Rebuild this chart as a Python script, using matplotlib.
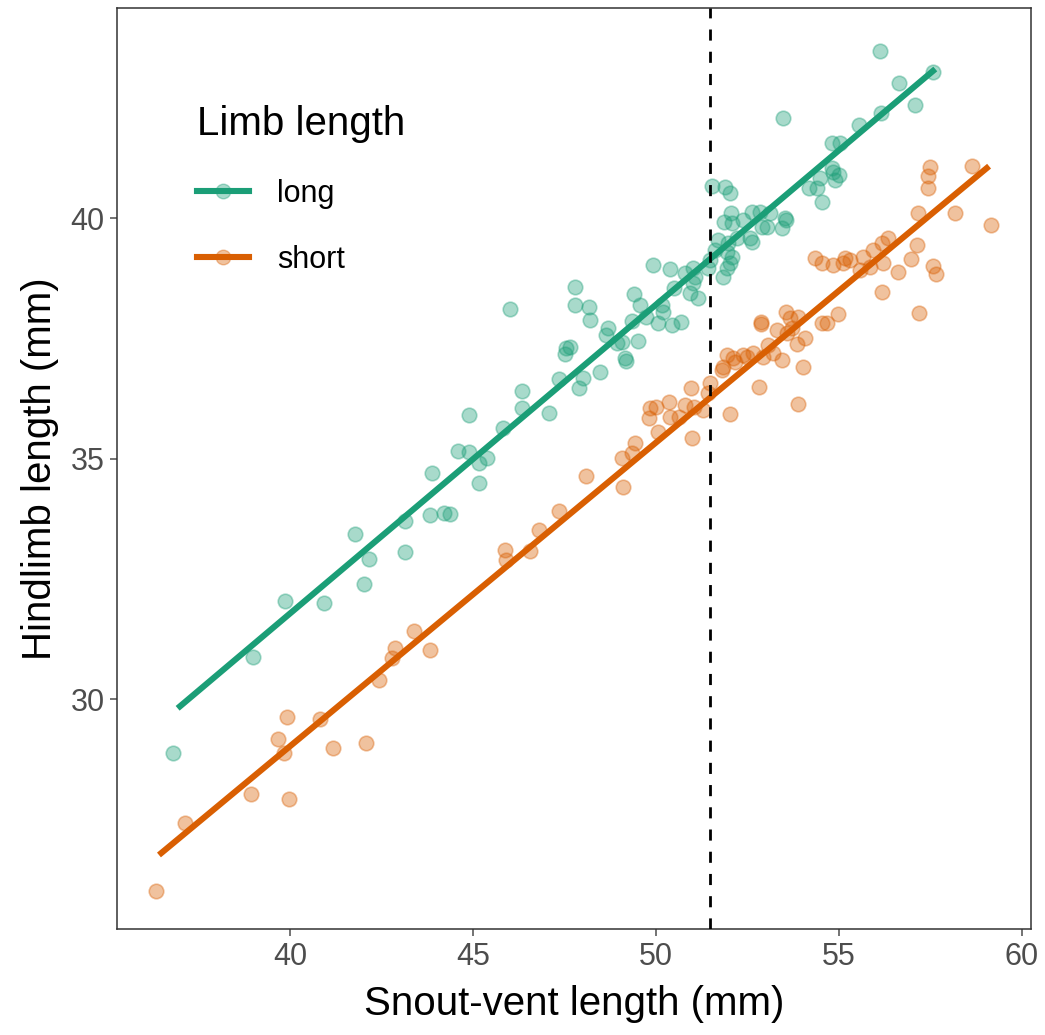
import matplotlib.pyplot as plt
from matplotlib.lines import Line2D

# snout-vent length / hindlimb length, long-limbed group
long_svl = [36.80, 38.99, 39.86, 40.93, 41.78, 42.16, 42.02, 43.14, 43.14, 43.83,
            44.21, 44.37, 45.16, 43.88, 44.59, 44.89, 45.16, 45.38, 44.89, 45.82,
            46.34, 46.34, 47.08, 47.35, 47.51, 47.54, 46.01, 47.79, 47.79, 48.17,
            48.20, 47.65, 47.90, 48.01, 48.47, 48.63, 48.69, 48.93, 49.07, 49.15,
            49.18, 49.34, 49.40, 49.51, 49.56, 49.73, 49.92, 50.05, 50.16, 50.19,
            50.38, 50.44, 50.49, 50.68, 50.79, 50.93, 51.01, 51.01, 51.07, 51.15,
            51.42, 51.48, 51.61, 51.69, 51.83, 51.94, 51.94, 51.97, 52.02, 52.08,
            52.21, 52.57, 52.62, 51.53, 51.89, 52.02, 52.05, 51.86, 52.08, 52.38,
            52.62, 52.84, 53.11, 53.03, 52.90, 53.52, 53.55, 53.44, 53.47, 54.18,
            54.40, 54.48, 54.54, 54.81, 54.84, 55.00, 54.89, 54.81, 55.03, 55.55,
            56.15, 56.64, 56.12, 57.08, 57.57]
long_hl = [28.88, 30.87, 32.04, 32.00, 33.43, 32.91, 32.39, 33.06, 33.70, 33.83,
           33.87, 33.85, 34.49, 34.70, 35.16, 35.14, 34.91, 35.01, 35.90, 35.63,
           36.40, 36.05, 35.95, 36.65, 37.17, 37.30, 38.11, 38.57, 38.19, 38.15,
           37.88, 37.32, 36.47, 36.67, 36.80, 37.57, 37.71, 37.40, 37.42, 37.09,
           37.03, 37.86, 38.42, 37.44, 38.19, 37.94, 39.02, 37.82, 38.19, 38.05,
           38.94, 37.78, 38.54, 37.84, 38.86, 38.44, 38.96, 38.65, 38.77, 38.34,
           38.96, 39.13, 39.33, 39.54, 38.77, 39.29, 38.96, 39.48, 39.06, 39.19,
           39.58, 39.58, 39.50, 40.67, 40.64, 40.52, 40.10, 39.92, 39.90, 39.96,
           40.12, 40.12, 40.10, 39.81, 39.81, 40.00, 39.96, 39.79, 42.08, 40.62,
           40.62, 40.83, 40.33, 41.04, 40.96, 40.89, 40.79, 41.56, 41.56, 41.93,
           42.18, 42.81, 43.47, 42.35, 43.04]

# short-limbed group
short_svl = [36.34, 37.13, 38.93, 39.97, 39.67, 39.84, 39.92, 40.82, 41.17, 42.08,
             42.43, 42.79, 42.87, 43.39, 43.83, 45.87, 45.90, 46.56, 46.80, 47.35,
             48.09, 49.10, 49.07, 49.34, 49.43, 50.05, 49.81, 49.84, 50.00, 50.36,
             50.38, 50.63, 50.79, 50.98, 50.96, 51.04, 51.28, 51.48, 51.42, 52.02,
             51.83, 51.80, 51.94, 52.10, 52.16, 52.38, 52.49, 52.65, 52.92, 53.06,
             53.20, 53.44, 52.81, 53.88, 54.02, 53.85, 54.07, 53.58, 53.72, 53.55,
             53.66, 53.88, 53.31, 52.87, 52.87, 54.54, 54.67, 54.97, 57.19, 57.49,
             57.43, 57.43, 58.63, 57.16, 58.17, 59.15, 56.34, 56.17, 55.93, 55.66,
             55.30, 55.16, 55.11, 54.84, 54.54, 54.34, 56.20, 55.85, 55.57, 57.13,
             56.97, 56.61, 57.57, 57.65, 56.17]
short_hl = [26.01, 27.42, 28.02, 27.92, 29.17, 28.88, 29.63, 29.58, 28.98, 29.09,
            30.40, 30.85, 31.06, 31.41, 31.02, 33.10, 32.89, 33.08, 33.51, 33.91,
            34.64, 34.41, 35.01, 35.11, 35.32, 35.55, 35.84, 36.05, 36.07, 36.17,
            35.86, 35.86, 36.11, 35.43, 36.47, 36.07, 36.01, 36.57, 36.36, 35.93,
            36.90, 36.84, 37.15, 37.09, 37.01, 37.15, 37.11, 37.19, 37.11, 37.36,
            37.19, 37.05, 36.49, 36.13, 36.90, 37.38, 37.51, 37.61, 37.71, 38.05,
            37.92, 37.94, 37.67, 37.84, 37.80, 37.82, 37.82, 38.00, 38.02, 41.06,
            40.87, 40.62, 41.08, 40.10, 40.10, 39.85, 39.58, 39.48, 39.33, 39.19,
            39.13, 39.17, 39.06, 39.02, 39.06, 39.17, 39.06, 38.98, 38.92, 39.44,
            39.15, 38.88, 39.00, 38.84, 38.46]

# fitted lines (end points)
long_fit_x = [36.99, 57.57]
long_fit_y = [29.85, 43.06]
short_fit_x = [36.48, 59.04]
short_fit_y = [26.80, 41.04]

cutoff = 51.48

green = '#1B9E77'
orange = '#D95F02'

plt.rcParams['font.family'] = ['Liberation Sans', 'DejaVu Sans']

fig = plt.figure(figsize=(10.45, 10.35), dpi=100)
ax = fig.add_axes([0.112, 0.1024, 0.8746, 0.8899])

ax.scatter(long_svl, long_hl, s=110, color=green, alpha=0.38, linewidths=1.2, zorder=2)
ax.scatter(short_svl, short_hl, s=110, color=orange, alpha=0.38, linewidths=1.2, zorder=2)
ax.plot(long_fit_x, long_fit_y, color=green, lw=4.4, zorder=3)
ax.plot(short_fit_x, short_fit_y, color=orange, lw=4.4, zorder=3)
ax.axvline(cutoff, color='black', lw=2, ls=(0, (4, 4)), zorder=4)

ax.set_xlim(35.27, 60.25)
ax.set_ylim(25.22, 44.37)
ax.set_xticks([40, 45, 50, 55, 60])
ax.set_yticks([30, 35, 40])
ax.tick_params(labelsize=22, colors='#4D4D4D', length=5, width=1.1, labelcolor='#4D4D4D', pad=4)
for sp in ax.spines.values():
    sp.set_color('#333333')
    sp.set_linewidth(1.1)

ax.set_xlabel('Snout-vent length (mm)', fontsize=29, labelpad=10)
ax.set_ylabel('Hindlimb length (mm)', fontsize=29, labelpad=8)

handles = [
    Line2D([], [], color=green, lw=4.4, marker='o', markersize=10.5,
           markerfacecolor=(0.106, 0.62, 0.467, 0.38), markeredgecolor=(0.106, 0.62, 0.467, 0.38)),
    Line2D([], [], color=orange, lw=4.4, marker='o', markersize=10.5,
           markerfacecolor=(0.851, 0.373, 0.008, 0.38), markeredgecolor=(0.851, 0.373, 0.008, 0.38)),
]
leg = ax.legend(handles, ['long', 'short'], title='Limb length', loc='upper left',
                bbox_to_anchor=(0.057, 0.925), frameon=False, fontsize=22,
                title_fontsize=29, handlelength=1.7, labelspacing=1.18,
                handletextpad=0.92, alignment='left')

fig.savefig('out.png', dpi=100)
